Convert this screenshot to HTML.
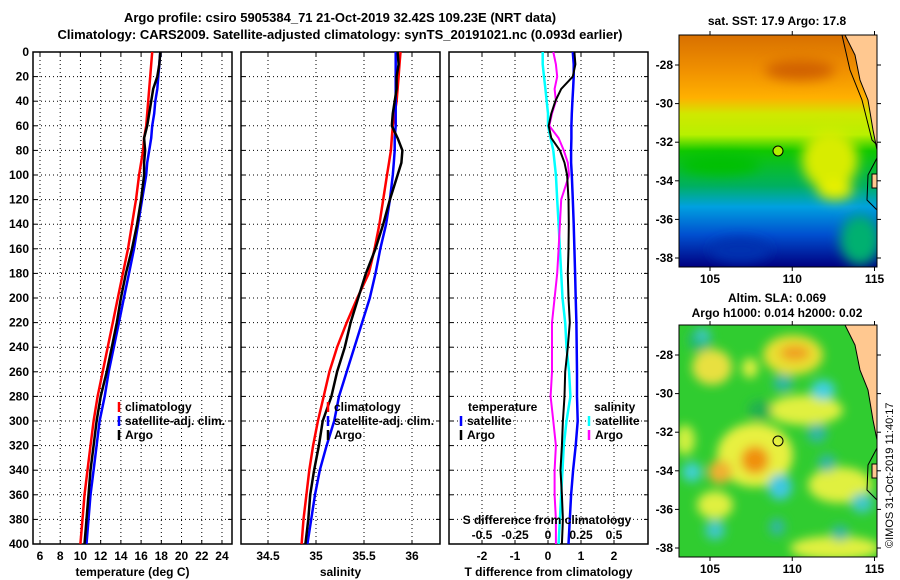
<!DOCTYPE html>
<html><head><meta charset="utf-8"><style>
body{margin:0;background:#fff;}
svg{display:block;font-family:"Liberation Sans",sans-serif;font-weight:bold;}
</style></head><body>
<svg id="c" width="900" height="580" viewBox="0 0 900 580" xmlns="http://www.w3.org/2000/svg">
<defs>
<linearGradient id="sstg" x1="0" y1="0" x2="0" y2="1">
<stop offset="0" stop-color="#d87000"/><stop offset="0.15" stop-color="#f09000"/><stop offset="0.27" stop-color="#ffb000"/>
<stop offset="0.34" stop-color="#d0e800"/><stop offset="0.43" stop-color="#b8f000"/><stop offset="0.5" stop-color="#10c800"/><stop offset="0.65" stop-color="#00b060"/>
<stop offset="0.74" stop-color="#00a0e0"/><stop offset="0.86" stop-color="#0050d0"/><stop offset="1" stop-color="#000080"/>
</linearGradient>
<filter id="bl" x="-50%" y="-50%" width="200%" height="200%"><feGaussianBlur stdDeviation="6"/></filter>
<filter id="bl2" x="-50%" y="-50%" width="200%" height="200%"><feGaussianBlur stdDeviation="5"/></filter>
<clipPath id="m1c"><rect x="679" y="35" width="198" height="232"/></clipPath>
<clipPath id="m2c"><rect x="679" y="325" width="198" height="232"/></clipPath>
</defs>
<g id="titles">
<text x="340" y="22" font-size="13" text-anchor="middle">Argo profile: csiro 5905384_71 21-Oct-2019 32.42S 109.23E (NRT data)</text>
<text x="340" y="39" font-size="13" text-anchor="middle">Climatology: CARS2009. Satellite-adjusted climatology: synTS_20191021.nc (0.093d earlier)</text>
</g>
<g id="p1"></g><g id="p2"></g><g id="p3"></g>
<g id="map1">
<g clip-path="url(#m1c)">
<rect x="679" y="35" width="198" height="232" fill="url(#sstg)"/>
<g filter="url(#bl)">
<ellipse cx="830" cy="160" rx="28" ry="30" fill="#d8ec00"/>
<ellipse cx="835" cy="190" rx="18" ry="10" fill="#e8f000"/>
<ellipse cx="800" cy="70" rx="35" ry="10" fill="#d06000"/>
<ellipse cx="860" cy="240" rx="20" ry="25" fill="#00b070"/>
<ellipse cx="720" cy="165" rx="40" ry="10" fill="#00c000"/>
<ellipse cx="740" cy="250" rx="30" ry="12" fill="#0030b0"/>
</g>
<polygon points="845,35 877,35 877,150 873,130 868,100 860,80 855,55" fill="#ffc890" stroke="#000" stroke-width="1"/>
<path d="M842,35 L850,70 L862,100 L872,140 L877,145" fill="none" stroke="#000" stroke-width="1"/>
<path d="M877,158 L868,175 L867,200 L877,210" fill="none" stroke="#000" stroke-width="1"/>
<rect x="872" y="174" width="6" height="14" fill="#ffc890" stroke="#000" stroke-width="1"/>
<circle cx="778" cy="151" r="5" fill="#b0f000" stroke="#000" stroke-width="1"/>
</g>
<rect x="679" y="35" width="198" height="232" fill="none" stroke="#000" stroke-width="1"/>
<text x="777" y="25" font-size="12" text-anchor="middle">sat. SST: 17.9 Argo: 17.8</text>
</g>
<g id="map2">
<g clip-path="url(#m2c)">
<rect x="679" y="325" width="198" height="232" fill="#30cc30"/>
<g filter="url(#bl2)">
<ellipse cx="793" cy="355" rx="30" ry="20" fill="#e8e030"/>
<ellipse cx="795" cy="353" rx="15" ry="8" fill="#f0a020"/>
<ellipse cx="712" cy="367" rx="20" ry="18" fill="#e8e040"/>
<ellipse cx="750" cy="368" rx="8" ry="10" fill="#e0f040"/>
<ellipse cx="805" cy="410" rx="38" ry="15" fill="#e0f040"/>
<ellipse cx="755" cy="455" rx="38" ry="32" fill="#e8f040"/>
<ellipse cx="755" cy="460" rx="14" ry="14" fill="#f09010"/>
<ellipse cx="720" cy="472" rx="12" ry="12" fill="#f0b030"/>
<ellipse cx="685" cy="440" rx="10" ry="15" fill="#d0f040"/>
<ellipse cx="840" cy="485" rx="32" ry="18" fill="#e0f040"/>
<ellipse cx="715" cy="505" rx="18" ry="14" fill="#e0f040"/>
<ellipse cx="835" cy="548" rx="45" ry="12" fill="#e0f040"/>
<ellipse cx="700" cy="340" rx="12" ry="12" fill="#20b870"/>
<ellipse cx="703" cy="335" rx="7" ry="7" fill="#40c8c0"/>
<ellipse cx="783" cy="383" rx="10" ry="9" fill="#30b8a0"/>
<ellipse cx="823" cy="390" rx="12" ry="10" fill="#40d0e0"/>
<ellipse cx="817" cy="433" rx="10" ry="10" fill="#30b8a0"/>
<ellipse cx="827" cy="463" rx="9" ry="9" fill="#30b8a0"/>
<ellipse cx="780" cy="487" rx="12" ry="13" fill="#40c8e0"/>
<ellipse cx="692" cy="472" rx="10" ry="10" fill="#40d0d0"/>
<ellipse cx="862" cy="503" rx="11" ry="10" fill="#40c8c8"/>
<ellipse cx="715" cy="530" rx="10" ry="10" fill="#40c8c8"/>
<ellipse cx="777" cy="527" rx="8" ry="9" fill="#30b8a0"/>
<ellipse cx="840" cy="533" rx="9" ry="8" fill="#30b8a0"/>
<ellipse cx="760" cy="410" rx="12" ry="10" fill="#20b050"/>
</g>
<polygon points="845,325 877,325 877,440 873,420 868,390 860,370 855,345" fill="#ffc890" stroke="#000" stroke-width="1"/>
<path d="M877,448 L868,465 L867,490 L877,500" fill="none" stroke="#000" stroke-width="1"/>
<rect x="872" y="464" width="6" height="14" fill="#ffc890" stroke="#000" stroke-width="1"/>
<circle cx="778" cy="441" r="5" fill="none" stroke="#000" stroke-width="1"/>
</g>
<rect x="679" y="325" width="198" height="232" fill="none" stroke="#000" stroke-width="1"/>
<text x="777" y="302" font-size="12" text-anchor="middle">Altim. SLA: 0.069</text>
<text x="777" y="317" font-size="12" text-anchor="middle">Argo h1000: 0.014 h2000: 0.02</text>
</g>
<g id="maxes"></g>
<text transform="translate(893,548) rotate(-90)" font-size="11" font-weight="normal">©IMOS 31-Oct-2019 11:40:17</text>
</svg>
<script>
const depths=[0,10,20,30,40,50,60,70,80,90,100,120,140,160,180,200,220,240,260,280,300,320,340,360,380,400];
const tempClim=[17.1,17.0,16.9,16.8,16.7,16.6,16.5,16.3,16.2,16.0,15.8,15.5,15.1,14.7,14.2,13.7,13.2,12.7,12.2,11.7,11.3,11.0,10.7,10.4,10.2,10.0];
const tempSat=[17.9,17.8,17.7,17.6,17.4,17.3,17.1,17.0,16.8,16.6,16.5,16.1,15.7,15.3,14.8,14.3,13.8,13.3,12.8,12.4,11.9,11.6,11.3,11.0,10.8,10.6];
const tempArgo=[17.9,17.8,17.6,17.2,17.0,16.8,16.6,16.3,16.4,16.3,16.3,16.0,15.6,15.1,14.5,14.0,13.6,13.1,12.6,12.0,11.6,11.3,11.0,10.8,10.6,10.4];
const salClim=[35.88,35.87,35.86,35.85,35.84,35.82,35.80,35.79,35.78,35.76,35.74,35.70,35.66,35.61,35.55,35.43,35.32,35.22,35.14,35.08,35.02,34.97,34.93,34.90,34.87,34.85];
const salSat=[35.83,35.83,35.83,35.83,35.83,35.83,35.83,35.82,35.82,35.81,35.80,35.77,35.73,35.67,35.62,35.56,35.48,35.40,35.32,35.24,35.19,35.11,35.04,34.99,34.95,34.91];
const salArgo=[35.85,35.86,35.84,35.84,35.82,35.80,35.79,35.85,35.90,35.89,35.85,35.77,35.70,35.62,35.52,35.44,35.36,35.30,35.22,35.16,35.07,35.03,34.98,34.94,34.92,34.89];
const tDiffSat=[0.75,0.78,0.78,0.76,0.74,0.72,0.71,0.71,0.70,0.70,0.72,0.75,0.78,0.80,0.82,0.84,0.86,0.87,0.88,0.88,0.90,0.84,0.76,0.70,0.66,0.62];
const tDiffArgo=[0.80,0.83,0.75,0.40,0.22,0.10,0.02,0.10,0.36,0.50,0.58,0.62,0.63,0.62,0.60,0.62,0.66,0.60,0.52,0.50,0.45,0.42,0.38,0.42,0.45,0.42];
const sDiffSat=[-0.04,-0.04,-0.03,-0.02,-0.01,0.00,0.00,0.02,0.04,0.05,0.06,0.07,0.08,0.09,0.10,0.11,0.13,0.14,0.16,0.17,0.14,0.12,0.11,0.10,0.09,0.08];
const sDiffArgo=[0.04,0.06,0.07,0.05,0.06,0.03,0.01,0.08,0.12,0.15,0.16,0.10,0.09,0.08,0.07,0.05,0.03,0.03,0.03,0.02,0.04,0.06,0.05,0.05,0.06,0.06];
const depthTicks=[0,20,40,60,80,100,120,140,160,180,200,220,240,260,280,300,320,340,360,380,400];
const tempTicks=[6,8,10,12,14,16,18,20,22,24];
const salTicks=[34.5,35,35.5,36];
const tDiffTicks=[-2,-1,0,1,2];
const sDiffTicks=[-0.5,-0.25,0,0.25,0.5];
const lonTicks=[105,110,115];
const latTicks=[-28,-30,-32,-34,-36,-38];

const NS='http://www.w3.org/2000/svg';
function mk(parent,tag,attrs,text){const e=document.createElementNS(NS,tag);for(const k in attrs)e.setAttribute(k,attrs[k]);if(text!==undefined)e.textContent=text;parent.appendChild(e);return e;}
const Y0=52,Y1=544;
const yD=d=>Y0+(d/400)*(Y1-Y0);
function panel(gid,left,right,xf,ticks,series,xtitle,name,tickFmt){
  const g=document.getElementById(gid);
  
  
  ticks.forEach(t=>{const x=xf(t);
    const l=mk(g,'line',{x1:x,x2:x,y1:Y0,y2:Y1,stroke:'#000','stroke-width':1,'stroke-dasharray':'1,3'});
    
    
    mk(g,'line',{x1:x,x2:x,y1:Y1,y2:Y1-4,stroke:'#000'});
    mk(g,'line',{x1:x,x2:x,y1:Y0,y2:Y0+4,stroke:'#000'});
    const tx=mk(g,'text',{x:x,y:560,'font-size':12,'text-anchor':'middle'},tickFmt?tickFmt(t):String(t));
    
    
  });
  depthTicks.forEach(d=>{const y=yD(d);
    if(d>0&&d<400){const l=mk(g,'line',{x1:left,x2:right,y1:y,y2:y,stroke:'#000','stroke-width':1,'stroke-dasharray':'1,3'});
      
      }
    mk(g,'line',{x1:left,x2:left+4,y1:y,y2:y,stroke:'#000'});
    mk(g,'line',{x1:right,x2:right-4,y1:y,y2:y,stroke:'#000'});
  });
  const fr=mk(g,'rect',{x:left,y:Y0,width:right-left,height:Y1-Y0,fill:'none',stroke:'#000','stroke-width':1.5});
  
  
  series.forEach(s=>{
    const pts=s.vals.map((v,i)=>s.xf(v).toFixed(1)+','+yD(depths[i]).toFixed(1)).join(' ');
    const p=mk(g,'polyline',{points:pts,fill:'none',stroke:s.color,'stroke-width':s.w||2.5,'stroke-linejoin':'round'});
    
    
  });
  const tt=mk(g,'text',{x:(left+right)/2,y:576,'font-size':12,'text-anchor':'middle'},xtitle);
  
  
}
function legend(gid,x,y,items){
  const g=document.getElementById(gid);
  items.forEach((it,i)=>{const yy=y+i*14;
    if(it.color){mk(g,'line',{x1:x,x2:x,y1:yy-9,y2:yy+1,stroke:it.color,'stroke-width':2.5});}
    const t=mk(g,'text',{x:x+(it.color?6:0),y:yy,'font-size':12},it.label);
    
    
  });
}
const gl=document.getElementById('p1');
depthTicks.forEach(d=>{const t=mk(gl,'text',{x:29,y:yD(d)+4,'font-size':12,'text-anchor':'end'},String(d));
  
  });

const xT=t=>40+(t-6)*10.11;
panel('p1',33,232,xT,tempTicks,[
 {vals:tempClim,xf:xT,color:'#f00',name:'temp-climatology-line'},
 {vals:tempSat,xf:xT,color:'#00f',name:'temp-satellite-line'},
 {vals:tempArgo,xf:xT,color:'#000',name:'temp-argo-line'}],'temperature (deg C)','temperature-panel');
legend('p1',119,411,[{color:'#f00',label:'climatology'},{color:'#00f',label:'satellite-adj. clim.'},{color:'#000',label:'Argo'}]);

const xS=s=>316+(s-35)*96;
panel('p2',241,440,xS,salTicks,[
 {vals:salClim,xf:xS,color:'#f00',name:'sal-climatology-line'},
 {vals:salSat,xf:xS,color:'#00f',name:'sal-satellite-line'},
 {vals:salArgo,xf:xS,color:'#000',name:'sal-argo-line'}],'salinity','salinity-panel');
legend('p2',328,411,[{color:'#f00',label:'climatology'},{color:'#00f',label:'satellite-adj. clim.'},{color:'#000',label:'Argo'}]);

const xDT=t=>548+t*33;
const xDS=s=>548+s*132;
panel('p3',449,648,xDT,tDiffTicks,[
 {vals:sDiffSat,xf:xDS,color:'#0ff',name:'sdiff-satellite-line'},
 {vals:sDiffArgo,xf:xDS,color:'#f0f',name:'sdiff-argo-line',w:2},
 {vals:tDiffSat,xf:xDT,color:'#00f',name:'tdiff-satellite-line'},
 {vals:tDiffArgo,xf:xDT,color:'#000',name:'tdiff-argo-line',w:2}],'T difference from climatology','difference-panel');
legend('p3',468,411,[{label:'temperature'}]);
legend('p3',461,425,[{color:'#00f',label:'satellite'},{color:'#000',label:'Argo'}]);
legend('p3',594,411,[{label:'salinity'}]);
legend('p3',589,425,[{color:'#0ff',label:'satellite'},{color:'#f0f',label:'Argo'}]);
const g3=document.getElementById('p3');
const st=mk(g3,'text',{x:547,y:524,'font-size':12,'text-anchor':'middle'},'S difference from climatology');


sDiffTicks.forEach(s=>{const t=mk(g3,'text',{x:xDS(s),y:539,'font-size':12,'text-anchor':'middle'},String(s));
  
  });

const gm=document.getElementById('maxes');
const lonX=l=>710+(l-105)*16.45;
const latY=(top,l)=>top+30+(-28-l)*19.3;
[[35,267],[325,557]].forEach(([top,bot])=>{
  lonTicks.forEach(l=>{const x=lonX(l);
    mk(gm,'line',{x1:x,x2:x,y1:top-4,y2:top,stroke:'#000'});
    mk(gm,'line',{x1:x,x2:x,y1:bot,y2:bot+4,stroke:'#000'});
    const t=mk(gm,'text',{x:x,y:bot+16,'font-size':12,'text-anchor':'middle'},String(l));
    
    });
  latTicks.forEach(l=>{const y=latY(top,l);
    mk(gm,'line',{x1:675,x2:679,y1:y,y2:y,stroke:'#000'});
    mk(gm,'line',{x1:877,x2:881,y1:y,y2:y,stroke:'#000'});
    const t=mk(gm,'text',{x:673,y:y+4,'font-size':12,'text-anchor':'end'},String(l));
    
    });
});
</script>
</body></html>
